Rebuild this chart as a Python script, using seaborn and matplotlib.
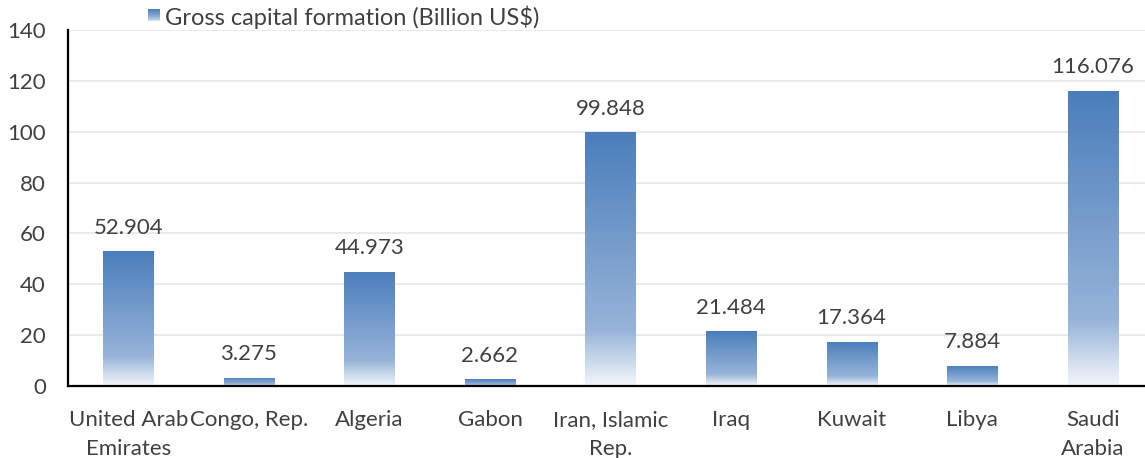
import numpy as np
import pandas as pd
import matplotlib
matplotlib.use("Agg")
import matplotlib.pyplot as plt
from matplotlib.colors import LinearSegmentedColormap
import seaborn as sns

countries = ["United Arab\nEmirates", "Congo, Rep.", "Algeria", "Gabon",
             "Iran, Islamic\nRep.", "Iraq", "Kuwait", "Libya", "Saudi\nArabia"]
gcf_values = [52.904, 3.275, 44.973, 2.662, 99.848, 21.484, 17.364, 7.884, 116.076]
series_name = "Gross capital formation (Billion US$)"

df = pd.DataFrame({"country": countries, "value": gcf_values})

sns.set_theme(style="white")
plt.rcParams["font.family"] = ["Lato", "DejaVu Sans"]
text_col = "#404040"
fs = 16

W, H = 1145, 458
fig = plt.figure(figsize=(W / 100, H / 100), dpi=100)
left_px, right_px, top_px, bot_px = 68, 1153, 30, 386
ax = fig.add_axes([left_px / W, 1 - bot_px / H, (right_px - left_px) / W, (bot_px - top_px) / H])

sns.barplot(data=df, x="country", y="value", ax=ax, width=0.415,
            color="#4A7EBB", saturation=1, zorder=2)

# vertical gradient: dark blue at top, lighter, then fading to white at base
grad = LinearSegmentedColormap.from_list(
    "bar_grad",
    [(0.0, "#F4F7FB"), (0.22, "#97B4D8"), (1.0, "#4A7EBB")])
ramp = np.linspace(0, 1, 256).reshape(-1, 1)
for patch in ax.patches:
    x0, y0 = patch.get_x(), patch.get_y()
    w, h = patch.get_width(), patch.get_height()
    patch.set_facecolor("none")
    patch.set_edgecolor("none")
    im = ax.imshow(ramp, cmap=grad, origin="lower", aspect="auto",
                   extent=[x0, x0 + w, y0, y0 + h], zorder=2,
                   interpolation="bilinear")
    im.set_clip_path(patch)
    ax.text(x0 + w / 2, y0 + h + 5.3, f"{h:.3f}", ha="center", va="bottom",
            fontsize=fs, color=text_col)

ax.set_xlim(-0.5, len(countries) - 0.5)
ax.set_ylim(0, 140)
ax.set_yticks(range(0, 141, 20))
ax.grid(axis="y", color="#E6E6E6", linewidth=1.2, zorder=0)
ax.set_axisbelow(True)
ax.set_xlabel("")
ax.set_ylabel("")
for s in ["top", "right"]:
    ax.spines[s].set_visible(False)
for s in ["left", "bottom"]:
    ax.spines[s].set_color("black")
    ax.spines[s].set_linewidth(1.6)
ax.tick_params(axis="both", length=0, labelsize=fs, labelcolor=text_col)
ax.tick_params(axis="y", pad=16)
ax.tick_params(axis="x", pad=17)
for lbl in ax.get_xticklabels():
    lbl.set_linespacing(1.6)

# legend: small gradient swatch plus series name
lax = fig.add_axes([148 / W, 1 - 21 / H, 12 / W, 12 / H])
lax.imshow(ramp, cmap=LinearSegmentedColormap.from_list(
    "leg", [(0.0, "#DCE6F2"), (0.3, "#97B4D8"), (1.0, "#4A7EBB")]),
    origin="lower", aspect="auto", extent=[0, 1, 0, 1])
lax.set_axis_off()
fig.text(165 / W, 1 - 17 / H, series_name, ha="left", va="center",
         fontsize=17, color=text_col)

fig.savefig("out.png", dpi=100)
